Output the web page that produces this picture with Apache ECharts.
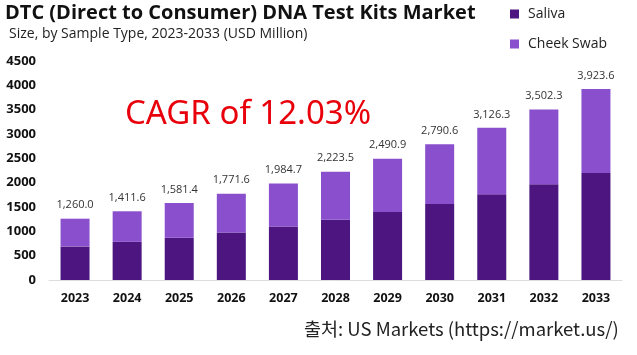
<!DOCTYPE html>
<html><head><meta charset="utf-8">
<script src="https://cdn.jsdelivr.net/npm/echarts@6/dist/echarts.min.js"></script>
<style>html,body{margin:0;padding:0;background:#fff}#c{width:637px;height:355px}</style>
</head><body><div id="c"></div>
<script>
var years = ['2023','2024','2025','2026','2027','2028','2029','2030','2031','2032','2033'];
var saliva = [690, 785, 870, 975, 1100, 1240, 1395, 1560, 1760, 1965, 2200];
var cheekSwab = [570, 627, 711, 797, 885, 984, 1096, 1231, 1366, 1537, 1724];
var totalLabels = ['1,260.0','1,411.6','1,581.4','1,771.6','1,984.7','2,223.5','2,490.9','2,790.6','3,126.3','3,502.3','3,923.6'];
var yTicks = [0, 500, 1000, 1500, 2000, 2500, 3000, 3500, 4000, 4500];

var chart = echarts.init(document.getElementById('c'), null, {renderer:'canvas'});
var font = 'Open Sans, Lato, sans-serif';
chart.setOption({
  animation: false,
  title: [
    {text: 'DTC (Direct to Consumer) DNA Test Kits Market', left: 0, top: -2,
     textStyle: {fontFamily: font, fontWeight: 'bold', fontSize: 20, color: '#111'}},
    {text: 'Size, by Sample Type, 2023-2033 (USD Million)', left: 4, top: 22,
     textStyle: {fontFamily: font, fontWeight: 'normal', fontSize: 14, color: '#222'}},
    {text: 'CAGR of 12.03%', left: 120, top: 93,
     textStyle: {fontFamily: 'Noto Sans, sans-serif', fontWeight: 'normal', fontSize: 33, color: '#e8000b'}},
    {text: '출처: US Markets (https://market.us/)', left: 299, top: 315,
     textStyle: {fontFamily: 'Noto Sans CJK KR, Noto Sans, sans-serif', fontWeight: 'normal', fontSize: 18.5, color: '#222'}}
  ],
  legend: {
    orient: 'vertical', left: 505, top: 2, itemGap: 16, itemWidth: 9, itemHeight: 9,
    icon: 'rect',
    textStyle: {fontFamily: font, fontSize: 14, color: '#222', padding: [0,0,0,4]},
    data: ['Saliva', 'Cheek Swab']
  },
  grid: {left: 49, right: 15, top: 61, bottom: 75, containLabel: false},
  xAxis: {
    type: 'category', data: years,
    axisLine: {show: true, lineStyle: {color: '#ddd', width: 1}},
    axisTick: {show: false},
    axisLabel: {fontFamily: font, fontWeight: 'bold', fontSize: 12.5, color: '#111', margin: 12}
  },
  yAxis: {
    type: 'value', min: 0, max: 4500, interval: 500,
    splitLine: {show: false},
    axisLine: {show: false}, axisTick: {show: false},
    axisLabel: {fontFamily: font, fontWeight: 'bold', fontSize: 13, color: '#111', margin: 13,
      formatter: function(v){ return yTicks.indexOf(v) >= 0 ? String(v) : ''; }}
  },
  series: [
    {name: 'Saliva', type: 'bar', stack: 't', data: saliva, barWidth: 29,
     itemStyle: {color: '#4c1580'}},
    {name: 'Cheek Swab', type: 'bar', stack: 't', data: cheekSwab, barWidth: 29,
     itemStyle: {color: '#8a4fcc'},
     label: {show: true, position: 'top', distance: 8,
       fontFamily: font, fontSize: 11, color: '#333',
       formatter: function(p){ return totalLabels[p.dataIndex]; }}}
  ]
});
</script></body></html>
